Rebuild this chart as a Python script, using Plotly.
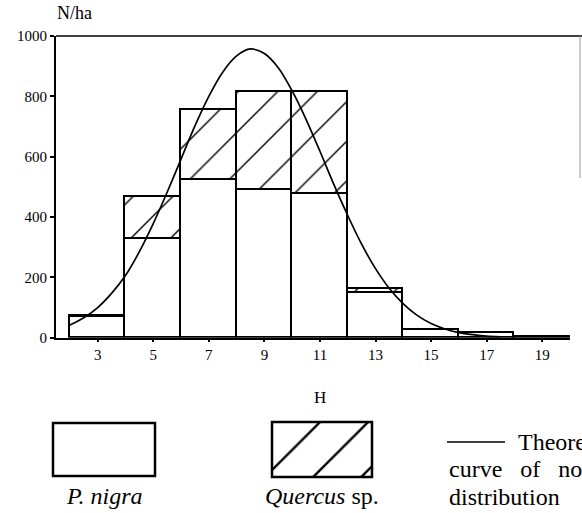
import plotly.graph_objects as go

# Height classes (m) and stand density (N/ha) by species
heights = [3, 5, 7, 9, 11, 13, 15, 17, 19]
p_nigra = [68, 328, 523, 491, 475, 148, 25, 17, 3]
quercus = [4, 138, 231, 322, 338, 13, 0, 0, 0]

# Theoretical normal-distribution curve, read at half-metre steps
curve_h = [2.0, 2.5, 3.0, 3.5, 4.0, 4.5, 5.0, 5.5, 6.0, 6.5, 7.0, 7.5, 8.0, 8.5,
           9.0, 9.5, 10.0, 10.5, 11.0, 11.5, 12.0, 12.5, 13.0, 13.5, 14.0, 14.5,
           15.0, 15.5, 16.0, 16.5, 17.0, 17.5]
curve_n = [42, 66, 100, 147, 206, 285, 378, 482, 592, 702, 800, 880, 934, 957,
           942, 895, 818, 724, 618, 508, 405, 310, 229, 163, 112, 74,
           47, 29, 17, 10, 5, 3]

x_ticks = [3, 5, 7, 9, 11, 13, 15, 17, 19]
y_ticks = [0, 200, 400, 600, 800, 1000]

W, H = 582, 513
ML, MR, MT, MB = 56, 12, 36, 20
PW, PH = W - ML - MR, H - MT - MB


def px(x):
    return (x - ML) / PW


def py(y):
    return (H - MB - y) / PH


SERIF = "Liberation Serif"
TICK_FONT = dict(family=SERIF, size=15, color="black")
TEXT_FONT = dict(family=SERIF, size=24, color="black")

fig = go.Figure()

fig.add_trace(go.Bar(
    x=heights, y=p_nigra, width=2, name="P. nigra",
    marker=dict(color="white", line=dict(color="black", width=1.6)),
))
fig.add_trace(go.Bar(
    x=heights, y=quercus, width=2, name="Quercus sp.",
    marker=dict(color="white", line=dict(color="black", width=1.6),
                pattern=dict(shape="/", size=28, solidity=0.05, fillmode="replace",
                             fgcolor="black", fgopacity=1, bgcolor="white")),
))
fig.add_trace(go.Scatter(
    x=curve_h, y=curve_n, mode="lines", name="Theoretical curve",
    line=dict(color="black", width=1.7, shape="spline", smoothing=0.8),
))

# hatched swatch for the Quercus key
fig.add_trace(go.Bar(
    x=[0], y=[1], width=1, xaxis="x2", yaxis="y2", showlegend=False,
    marker=dict(color="white", line=dict(width=0),
                pattern=dict(shape="/", size=34, solidity=0.07, fillmode="replace",
                             fgcolor="black", fgopacity=1, bgcolor="white")),
))

fig.update_layout(
    width=W, height=H,
    margin=dict(l=ML, r=MR, t=MT, b=MB),
    paper_bgcolor="white", plot_bgcolor="white",
    barmode="stack", bargap=0, showlegend=False,
    xaxis=dict(range=[1.5, 20], tickvals=x_ticks, ticks="outside", ticklen=3,
               tickwidth=2, tickcolor="black", showline=True, linecolor="black",
               linewidth=1.5, showgrid=False, zeroline=False, tickfont=TICK_FONT),
    yaxis=dict(domain=[py(337.7), 1], range=[0, 1000], tickvals=y_ticks,
               ticks="outside", ticklen=4, tickwidth=2, tickcolor="black",
               showline=True, linecolor="black", linewidth=2, showgrid=False,
               zeroline=False, tickfont=TICK_FONT),
    xaxis2=dict(domain=[px(272), px(372)], range=[-0.5, 0.5], anchor="y2",
                visible=False, fixedrange=True),
    yaxis2=dict(domain=[py(477), py(422)], range=[0, 1], anchor="x2",
                visible=False, fixedrange=True),
)

shapes = [
    # top frame line and right edge
    dict(type="line", xref="paper", yref="paper", x0=0, x1=px(582), y0=1, y1=1,
         line=dict(color="black", width=1.5)),
    dict(type="line", xref="paper", yref="paper", x0=px(580), x1=px(580),
         y0=py(36), y1=py(178), line=dict(color="#999999", width=1)),
    # key swatches
    dict(type="rect", xref="paper", yref="paper", x0=px(53), x1=px(155),
         y0=py(476), y1=py(423), line=dict(color="black", width=2.5)),
    dict(type="rect", xref="paper", yref="paper", x0=px(272), x1=px(372),
         y0=py(477), y1=py(422), line=dict(color="black", width=2.5)),
    # key line for the theoretical curve
    dict(type="line", xref="paper", yref="paper", x0=px(447), x1=px(505),
         y0=py(442), y1=py(442), line=dict(color="black", width=1.5)),
]
fig.update_layout(shapes=shapes)

NB = "\u00a0"
annotations = [
    dict(text="N/ha", x=px(55), y=py(13), xanchor="left", yanchor="middle",
         font=dict(family=SERIF, size=18, color="black")),
    dict(text="H", x=px(320), y=py(397), xanchor="center", yanchor="middle",
         font=dict(family=SERIF, size=17, color="black")),
    dict(text="<i>P. nigra</i>", x=px(104), y=py(496), xanchor="center",
         yanchor="middle", font=TEXT_FONT),
    dict(text="<i>Quercus</i> sp.", x=px(322), y=py(496), xanchor="center",
         yanchor="middle", font=TEXT_FONT),
    dict(text="Theoretical", x=px(516), y=py(442), xanchor="left",
         yanchor="middle", font=TEXT_FONT),
    dict(text="curve" + NB * 3 + "of" + NB * 3 + "normal", x=px(447), y=py(469),
         xanchor="left", yanchor="middle", font=TEXT_FONT),
    dict(text="distribution", x=px(447), y=py(497), xanchor="left",
         yanchor="middle", font=TEXT_FONT),
]
for a in annotations:
    a.update(xref="paper", yref="paper", showarrow=False)
fig.update_layout(annotations=annotations)

fig.write_html("out.html")
